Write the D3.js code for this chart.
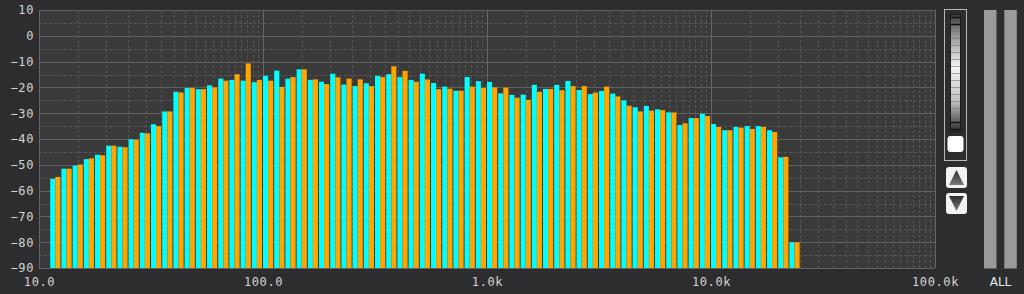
<!DOCTYPE html>
<html>
<head>
<meta charset="utf-8">
<script src="https://cdn.jsdelivr.net/npm/d3@7"></script>
<style>
html,body{margin:0;padding:0;background:#2d2d2f;}
svg{display:block;}
.axis text{font-family:"DejaVu Sans Mono",monospace;font-size:12px;fill:#d4d4d4;letter-spacing:0.6px;}
</style>
</head>
<body>
<svg id="chart" width="1024" height="294"></svg>
<script>
/* data */
// 每十倍频程 20 个频带（下边沿的尾数）
var bandMantissa=[1.000,1.122,1.259,1.413,1.585,1.778,1.995,2.239,2.512,2.818,3.162,3.548,3.981,4.467,5.012,5.623,6.310,7.079,7.943,8.913];
var decades=[10,100,1000,10000];
// 青色系列 (dB)
var cyanValues=[-55.4,-51.5,-50.3,-47.8,-46.1,-42.6,-43.0,-40.1,-37.6,-34.3,
	-29.3,-21.7,-20.2,-20.7,-19.2,-16.6,-17.1,-17.4,-18.0,-15.5,
	-13.5,-16.6,-13.0,-17.1,-17.8,-14.7,-18.9,-19.5,-18.4,-15.5,
	-14.9,-16.0,-17.1,-14.7,-18.3,-19.7,-21.3,-16.0,-17.6,-17.9,
	-22.3,-22.9,-22.8,-19.0,-20.6,-19.0,-17.5,-21.0,-22.6,-21.4,
	-22.4,-25.0,-27.7,-27.2,-28.5,-29.7,-34.6,-31.9,-30.2,-34.2,
	-36.6,-35.3,-35.0,-35.0,-36.6,-47.1,-80.0];
// 橙色系列 (dB)
var orangeValues=[-54.7,-51.5,-49.9,-47.5,-46.3,-42.6,-43.2,-40.3,-37.8,-35.0,
	-29.3,-22.0,-20.2,-20.7,-20.0,-17.4,-14.9,-10.7,-17.1,-17.4,
	-19.8,-16.0,-13.0,-16.9,-18.7,-16.1,-16.6,-16.9,-19.5,-16.0,
	-11.8,-13.6,-17.8,-16.9,-20.7,-20.5,-21.3,-19.7,-20.2,-20.0,
	-20.1,-24.0,-24.8,-21.7,-20.6,-21.1,-19.5,-19.5,-22.0,-19.7,
	-23.5,-27.1,-29.3,-29.0,-28.8,-29.7,-33.9,-31.9,-31.1,-35.3,
	-36.6,-35.6,-36.1,-35.3,-37.3,-46.9,-80.0];
// 坐标轴刻度
var xTickValues=[10,100,1000,10000,100000];
var xTickLabels=["10.0","100.0","1.0k","10.0k","100.0k"];
var yTickValues=[10,0,-10,-20,-30,-40,-50,-60,-70,-80,-90];
var gridMantissa=[1,1.5,2,2.5,3,3.5,4,4.5,5,5.5,6,6.5,7,7.5,8,8.5,9,9.5];

/* layout */
var LEFT=39, RIGHT=935, TOP=10, BOTTOM=268;
var svg=d3.select("#chart");

var x=d3.scaleLog().domain([10,100000]).range([LEFT,RIGHT]);
var y=d3.scaleLinear().domain([-90,10]).range([BOTTOM,TOP]);

// 频带边沿
var edges=[];
decades.forEach(function(d){bandMantissa.forEach(function(m){edges.push(d*m);});});
edges.push(100000);

// 绘图区背景
svg.append("rect")
	.attr("x",LEFT).attr("y",TOP)
	.attr("width",RIGHT-LEFT).attr("height",BOTTOM-TOP)
	.attr("fill","#3a3a3a");

// 水平网格线
var hGrid=d3.range(-90,11,5);
svg.append("g").selectAll("line").data(hGrid).enter().append("line")
	.attr("x1",LEFT).attr("x2",RIGHT)
	.attr("y1",function(d){return Math.round(y(d))+0.5;}).attr("y2",function(d){return Math.round(y(d))+0.5;})
	.attr("stroke",function(d){return d%10==0?"#626262":"#565656";})
	.attr("stroke-dasharray",function(d){return d%10==0?null:"3 2";});

// 垂直网格线
var vGrid=[];
decades.forEach(function(d){gridMantissa.forEach(function(m){vGrid.push({f:d*m,major:m==1});});});
vGrid.push({f:100000,major:true});
svg.append("g").selectAll("line").data(vGrid).enter().append("line")
	.attr("x1",function(d){return Math.round(x(d.f))+0.5;})
	.attr("x2",function(d){return Math.round(x(d.f))+0.5;})
	.attr("y1",TOP).attr("y2",BOTTOM)
	.attr("stroke",function(d){return d.major?"#666666":"#545454";})
	.attr("stroke-dasharray",function(d){return d.major?null:"3 2";});

// 频谱柱
var bars=svg.append("g");
cyanValues.forEach(function(v,i){
	var x0=x(edges[i+1]), x1=x(edges[i+2]);
	var w=(x1-x0-1)/2;
	bars.append("rect")
		.attr("x",x0).attr("y",y(v))
		.attr("width",w).attr("height",BOTTOM-y(v))
		.attr("fill","#00ffff");
	bars.append("rect")
		.attr("x",x0+w).attr("y",y(orangeValues[i]))
		.attr("width",w).attr("height",BOTTOM-y(orangeValues[i]))
		.attr("fill","#ffa500");
});

// 坐标轴
svg.append("g").attr("class","axis")
	.attr("transform","translate("+(LEFT-1)+",0)")
	.call(d3.axisLeft(y).tickValues(yTickValues).tickSize(0).tickPadding(4).tickFormat(d3.format("d")))
	.call(function(g){g.select(".domain").remove();});
svg.append("g").attr("class","axis")
	.attr("transform","translate(0,"+BOTTOM+")")
	.call(d3.axisBottom(x).tickValues(xTickValues).tickSize(0).tickPadding(9)
		.tickFormat(function(d,i){return xTickLabels[i];}))
	.call(function(g){g.select(".domain").remove();});

/* 右侧控件 */
var defs=svg.append("defs");
var grad=defs.append("linearGradient").attr("id","sliderGrad").attr("x1",0).attr("x2",0).attr("y1",0).attr("y2",1);
grad.append("stop").attr("offset","0").attr("stop-color","#3a3a3a");
grad.append("stop").attr("offset","0.15").attr("stop-color","#8a8a8a");
grad.append("stop").attr("offset","0.45").attr("stop-color","#f4f4f4");
grad.append("stop").attr("offset","0.75").attr("stop-color","#bdbdbd");
grad.append("stop").attr("offset","1").attr("stop-color","#2e2e2e");
var triGrad=defs.append("linearGradient").attr("id","triGrad").attr("x1",0).attr("x2",0).attr("y1",0).attr("y2",1);
triGrad.append("stop").attr("offset","0").attr("stop-color","#2c2c2c");
triGrad.append("stop").attr("offset","1").attr("stop-color","#7a7a7a");

var ctl=svg.append("g");
ctl.append("rect").attr("x",944.5).attr("y",9.5).attr("width",22).attr("height",151)
	.attr("fill","none").attr("stroke","#b8b8b8");
ctl.append("rect").attr("x",950.5).attr("y",14.5).attr("width",10).attr("height",117)
	.attr("fill","url(#sliderGrad)").attr("stroke","#1e1e1e");
d3.range(0,17).forEach(function(i){
	ctl.append("line").attr("x1",951).attr("x2",960)
		.attr("y1",17.5+i*7).attr("y2",17.5+i*7)
		.attr("stroke",i<2||i>14?"#111":"#777").attr("stroke-width",i<2||i>14?1.5:0.6);
});
ctl.append("rect").attr("x",947.5).attr("y",136).attr("width",16).attr("height",16).attr("rx",3)
	.attr("fill","#ffffff");
ctl.append("rect").attr("x",946).attr("y",167).attr("width",21).attr("height",21).attr("rx",3)
	.attr("fill","#f2f2f2");
ctl.append("path").attr("d","M956.5,170 L964,185 L949,185 Z").attr("fill","url(#triGrad)");
ctl.append("rect").attr("x",946).attr("y",193).attr("width",21).attr("height",21).attr("rx",3)
	.attr("fill","#f2f2f2");
ctl.append("path").attr("d","M949,196 L964,196 L956.5,211 Z").attr("fill","url(#triGrad)");

ctl.append("rect").attr("x",984).attr("y",10).attr("width",12.5).attr("height",258.5).attr("fill","#9a9a9a");
ctl.append("rect").attr("x",1004.3).attr("y",10).attr("width",12.5).attr("height",258.5).attr("fill","#9a9a9a");
ctl.append("text").attr("x",1000.5).attr("y",286).attr("text-anchor","middle")
	.style("font-family","'DejaVu Sans',sans-serif").style("font-size","12px").style("fill","#e2eaf4")
	.text("ALL");
</script>
</body>
</html>
